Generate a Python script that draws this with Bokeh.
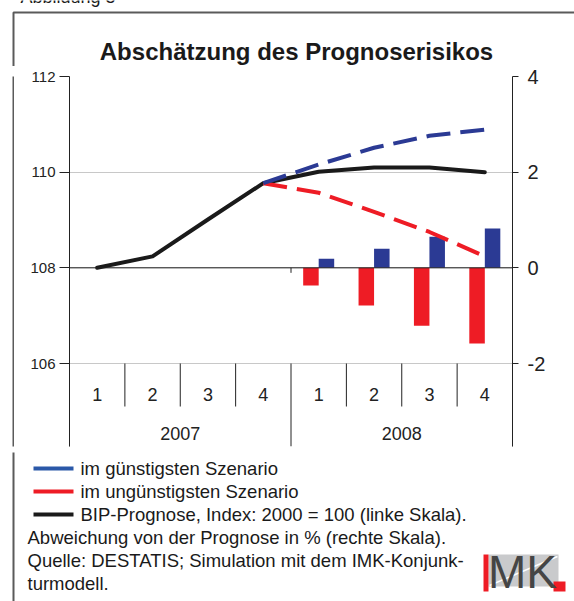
from bokeh.plotting import figure
from bokeh.layouts import column, row
from bokeh.models import Range1d, LinearAxis, FixedTicker, Span
from bokeh.core.properties import value
from bokeh.embed import file_html
from bokeh.resources import INLINE

# ---------------- data ----------------
caption = "Abbildung 5"
title_text = "Abschätzung des Prognoserisikos"
quarters = ["1", "2", "3", "4", "1", "2", "3", "4"]
years = ["2007", "2008"]
bip = [108.0, 108.24, 109.01, 109.77, 110.01, 110.10, 110.10, 110.0]      # left scale
best = [109.77, 110.16, 110.51, 110.76, 110.89]                         # from 2007 Q4
worst = [109.77, 109.57, 109.17, 108.75, 108.24]                        # from 2007 Q4
dev_best = [0.19, 0.40, 0.65, 0.82]                                     # right scale, 2008
dev_worst = [-0.37, -0.79, -1.21, -1.58]
left_ticks = [106, 108, 110, 112]
right_ticks = [-2, 0, 2, 4]
legend_labels = ["im günstigsten Szenario",
                 "im ungünstigsten Szenario",
                 "BIP-Prognose, Index: 2000 = 100 (linke Skala)."]
notes = ["Abweichung von der Prognose in % (rechte Skala).",
         "Quelle: DESTATIS; Simulation mit dem IMK-Konjunk-",
         "turmodell."]
logo_text = "MK"

# ---------------- styles / layout ----------------
BLUE = "#2b3a94"
BLUE_LEG = "#2a58a8"
RED = "#ee1c25"
BLACK = "#1a1a1a"
AXC = "#222222"
BORDER = "#5a5a5a"
FONT = "Liberation Sans"
NARROW = "Liberation Sans Narrow, Liberation Sans"

W, H = 574, 601
HDR_H = 66                  # header strip (caption, title, top border)
MAIN_TOP, MAIN_BOT = HDR_H, 452
STRIP_W = 14                # strip carrying the left border line
BX = 13                     # x of outer left border
BY = 12                     # y of outer top border
FL, FR, FT, FB = 69, 512, 76, 446   # frame of the chart (page px)
UNIT = (363 - FT) / 6      # px per value unit (both scales)
y_top = left_ticks[-1]
y_bot = y_top - (FB - FT) / UNIT
r_top = right_ticks[-1]
r_bot = r_top - (FB - FT) / UNIT

n = len(quarters)
per_year = n // len(years)
xc = [i + 0.5 for i in range(n)]
start = per_year - 1       # scenarios start at last quarter of first year


def plain(width, height, x0, x1, y0, y1):
    f = figure(width=width, height=height, x_range=Range1d(x0, x1), y_range=Range1d(y1, y0),
               x_axis_type=None, y_axis_type=None, min_border=0, title=None,
               output_backend="svg", toolbar_location=None)
    f.outline_line_color = None
    f.background_fill_color = "white"
    f.border_fill_color = "white"
    return f


# ---------------- header ----------------
hdr = plain(W, HDR_H, 0, W, 0, HDR_H)
hdr.line(x=[BX, BX, W + 5], y=[HDR_H + 5, BY, BY], line_color=BORDER, line_width=2)
hdr.text(x=[20], y=[-3.5], text=[caption], text_font=value(FONT), text_font_size="18px",
         text_baseline="middle", text_color=BLACK)
hdr.text(x=[296], y=[51], text=[title_text], text_font=value(FONT), text_font_size="24px",
         text_font_style="bold", text_align="center", text_baseline="middle",
         text_color=BLACK)

# ---------------- left border strip ----------------
strip = plain(STRIP_W, MAIN_BOT - MAIN_TOP, 0, STRIP_W, MAIN_TOP, MAIN_BOT)
strip.line(x=[BX, BX], y=[MAIN_TOP - 5, MAIN_BOT + 5], line_color=BORDER, line_width=2)

# ---------------- main chart ----------------
MW = W - STRIP_W
p = figure(width=MW, height=MAIN_BOT - MAIN_TOP, x_range=Range1d(0, n),
           y_range=Range1d(y_bot, y_top), x_axis_type=None, title=None,
           output_backend="svg", toolbar_location=None,
           min_border_left=FL - STRIP_W, min_border_right=W - FR,
           min_border_top=FT - MAIN_TOP, min_border_bottom=MAIN_BOT - FB)
p.outline_line_color = None
p.background_fill_color = "white"
p.border_fill_color = "white"
p.ygrid.ticker = FixedTicker(ticks=left_ticks)
p.ygrid.grid_line_color = "#c8c8c8"
p.ygrid.grid_line_width = 1

ax = p.yaxis[0]
ax.ticker = FixedTicker(ticks=left_ticks)
ax.major_tick_out = 10
ax.major_tick_in = 0
ax.minor_tick_line_color = None
ax.major_label_standoff = 4
ax.major_label_text_font = NARROW
ax.major_label_text_font_size = "15px"
ax.major_label_text_color = AXC
ax.axis_line_color = AXC
ax.major_tick_line_color = AXC

p.extra_y_ranges = {"right": Range1d(r_bot, r_top)}
rax = LinearAxis(y_range_name="right", ticker=FixedTicker(ticks=right_ticks))
rax.major_label_overrides = {t: str(t) for t in right_ticks}
rax.major_tick_out = 6
rax.major_tick_in = 0
rax.minor_tick_line_color = None
rax.major_label_standoff = 9
rax.major_label_text_font = FONT
rax.major_label_text_font_size = "20px"
rax.major_label_text_color = AXC
rax.axis_line_color = AXC
rax.major_tick_line_color = AXC
p.add_layout(rax, "right")

# zero line of the right scale
p.add_layout(Span(location=0, dimension="width", y_range_name="right",
                  line_color=AXC, line_width=1))

# category table below the value area
q_bounds = [i for i in range(1, n) if i % per_year != 0]
y_bounds = [i for i in range(0, n + 1, per_year)]
p.segment(x0=q_bounds, x1=q_bounds, y0=[left_ticks[0]] * len(q_bounds),
          y1=[left_ticks[0] - 43 / UNIT] * len(q_bounds), line_color=AXC, line_width=1)
p.segment(x0=y_bounds, x1=y_bounds, y0=[left_ticks[0]] * len(y_bounds),
          y1=[y_bot] * len(y_bounds), line_color=AXC, line_width=1)
inner = y_bounds[1:-1]
p.segment(x0=inner, x1=inner, y0=[0] * len(inner), y1=[-5 / UNIT] * len(inner),
          y_range_name="right", line_color=AXC, line_width=1)
p.text(x=xc, y=[left_ticks[0] - 31 / UNIT] * n, text=quarters,
       text_font=value(FONT), text_font_size="18px", text_align="center",
       text_baseline="middle", text_color=AXC)
p.text(x=[per_year * (k + 0.5) for k in range(len(years))],
       y=[left_ticks[0] - 70 / UNIT] * len(years), text=years,
       text_font=value(FONT), text_font_size="18px", text_align="center",
       text_baseline="middle", text_color=AXC)

# bars (right scale)
bw = 0.28
bx = xc[per_year:]
p.vbar(x=[v - bw / 2 for v in bx], width=bw, top=dev_worst, bottom=0,
       y_range_name="right", fill_color=RED, line_color=None)
p.vbar(x=[v + bw / 2 for v in bx], width=bw, top=dev_best, bottom=0,
       y_range_name="right", fill_color=BLUE, line_color=None)

# lines (left scale)
p.line(x=xc, y=bip, line_color=BLACK, line_width=4, line_join="round", line_cap="round")
p.line(x=xc[start:], y=worst, line_color=RED, line_width=4, line_dash="24 10")
p.line(x=xc[start:], y=best, line_color=BLUE, line_width=4, line_dash="24 10")

# ---------------- footer: legend, notes, logo ----------------
ftr = plain(W, H - MAIN_BOT, 0, W, MAIN_BOT, H)
ftr.line(x=[BX, BX], y=[MAIN_BOT - 5, H + 5], line_color=BORDER, line_width=2)
leg_colors = [BLUE_LEG, RED, BLACK]
LINE0, STEP = 468, 23
ftr.quad(left=[33] * 3, right=[73] * 3,
         top=[LINE0 + STEP * k - 2 for k in range(3)],
         bottom=[LINE0 + STEP * k + 2 for k in range(3)],
         fill_color=leg_colors, line_color=None)
ftr.text(x=[80] * len(legend_labels), y=[LINE0 + STEP * k for k in range(len(legend_labels))],
         text=legend_labels, text_font=value(FONT), text_font_size="18.5px",
         text_baseline="middle", text_color=BLACK)
ftr.text(x=[27] * len(notes),
         y=[LINE0 + STEP * (len(legend_labels) + k) for k in range(len(notes))],
         text=notes, text_font=value(FONT), text_font_size="18.5px",
         text_baseline="middle", text_color=BLACK)
# IMK logo
ftr.quad(left=[488], right=[558], top=[554], bottom=[586], fill_color="#c9cacc", line_color=None)
ftr.line(x=[489, 557], y=[585, 556], line_color="white", line_width=1.5)
ftr.quad(left=[483, 553], right=[488, 565], top=[554, 581], bottom=[591, 591],
         fill_color=RED, line_color=None)
ftr.text(x=[522], y=[571], text=[logo_text], text_font=value(NARROW), text_font_size="46px",
         text_align="center", text_baseline="middle", text_color="#454545")

layout = column(hdr, row(strip, p), ftr)
open("out.html", "w").write(file_html(layout, INLINE))
